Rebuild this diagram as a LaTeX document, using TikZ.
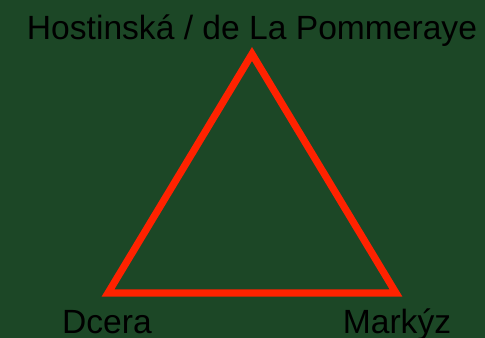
\documentclass[tikz,border=0pt]{standalone}
\usepackage{fontspec}
\setmainfont{Liberation Sans}
\definecolor{bg}{HTML}{1C4726}
\definecolor{tri}{HTML}{FF2200}
\begin{document}
\begin{tikzpicture}[x=0.75pt,y=-0.75pt,
  lbl/.style={font=\fontsize{25.2}{30}\selectfont, text=black, inner sep=0pt, anchor=base},
  edge/.style={draw=tri, line width=5.4pt, miter limit=10, line join=miter}]
\fill[bg] (0,0) rectangle (485,338);
\useasboundingbox (0,0) rectangle (485,338);
\coordinate (A) at (252,54);
\coordinate (B) at (108,293);
\coordinate (C) at (396,293);
\draw[edge] (A) -- (B) -- (C) -- cycle;
\node[lbl] (top) at (252,40) {Hostinská / de La Pommeraye};
\node[lbl] (left) at (107,333) {Dcera};
\node[lbl] (right) at (397,333) {Markýz};
\end{tikzpicture}
\end{document}
